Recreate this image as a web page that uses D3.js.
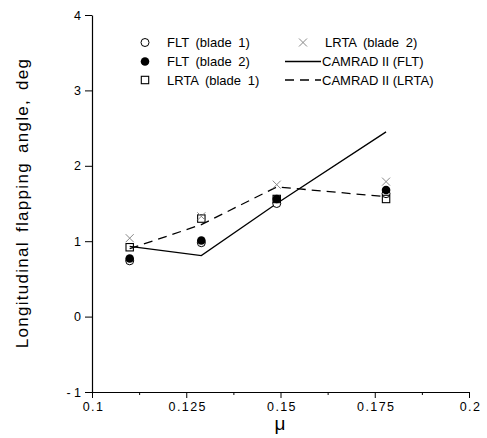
<!DOCTYPE html>
<html><head><meta charset="utf-8">
<script src="https://cdn.jsdelivr.net/npm/d3@7"></script>
<style>body{margin:0;background:#fff;} svg{display:block;} text{font-family:Arial, "Liberation Sans", Helvetica, sans-serif;}</style>
</head><body>
<svg id="c" width="487" height="438"></svg>
<script>
const mu = [0.11, 0.129, 0.149, 0.178];
const fltBlade1 = [0.74, 0.98, 1.50, 1.63];
const fltBlade2 = [0.77, 1.01, 1.56, 1.68];
const lrtaBlade1 = [0.92, 1.30, 1.56, 1.56];
const lrtaBlade2 = [1.04, 1.33, 1.75, 1.79];
const camradFLT = [0.93, 0.81, 1.50, 2.45];
const camradLRTA = [0.90, 1.22, 1.72, 1.59];
const xTicks = [0.1, 0.125, 0.15, 0.175, 0.2];
const xTickLabels = ["0.1", "0.125", "0.15", "0.175", "0.2"];
const xMinorTicks = [0.1125, 0.1375, 0.1625, 0.1875];
const yTicks = [-1, 0, 1, 2, 3, 4];
const yTickLabels = ["- 1", "0", "1", "2", "3", "4"];

const svg = d3.select("#c");
const x = d3.scaleLinear().domain([0.1, 0.2]).range([92, 469]);
const y = d3.scaleLinear().domain([-1, 4]).range([392, 15]);

// axes
const gx = svg.append("g").attr("transform", "translate(0,392)")
  .call(d3.axisBottom(x).tickValues(xTicks).tickFormat((d,i)=>xTickLabels[i]).tickSize(6).tickPadding(4).tickSizeOuter(0));
gx.selectAll(".tick text").attr("font-size", 12.5).attr("letter-spacing", 1.4).attr("dx", 1);
svg.append("g").attr("transform", "translate(0,392)")
  .call(d3.axisBottom(x).tickValues(xMinorTicks).tickFormat("").tickSize(3).tickSizeOuter(0))
  .select(".domain").remove();
const gy = svg.append("g").attr("transform", "translate(92,0)")
  .call(d3.axisLeft(y).tickValues(yTicks).tickFormat((d,i)=>yTickLabels[i]).tickSize(7).tickPadding(4).tickSizeOuter(0));
gy.selectAll(".tick text").attr("font-size", 12.5);
svg.selectAll(".domain").attr("stroke", "#000").attr("stroke-width", 1.2);
svg.selectAll(".tick line").attr("stroke", "#000");
svg.selectAll(".tick text").attr("fill", "#000")
  .style("font-family", "Arial, 'Liberation Sans', sans-serif");

// axis titles
svg.append("text").attr("transform", "translate(28,203) rotate(-90)")
  .attr("text-anchor", "middle").attr("font-size", 17).attr("letter-spacing", 1.3).attr("word-spacing", 3)
  .text("Longitudinal flapping angle, deg");
svg.append("text").attr("x", 280).attr("y", 430)
  .attr("text-anchor", "middle").attr("font-size", 19).text("μ");

// lines
const line = d3.line().x((d,i)=>x(mu[i])).y(d=>y(d));
svg.append("path").datum(camradFLT).attr("d", line).attr("fill", "none").attr("stroke", "#000").attr("stroke-width", 1.3);
svg.append("path").datum(camradLRTA).attr("d", line).attr("fill", "none").attr("stroke", "#000").attr("stroke-width", 1.3).attr("stroke-dasharray", "9,6");

// markers
function openCircle(g, cx, cy) { g.append("circle").attr("cx", cx).attr("cy", cy).attr("r", 4).attr("fill", "#fff").attr("stroke", "#000").attr("stroke-width", 1); }
function filledCircle(g, cx, cy) { g.append("circle").attr("cx", cx).attr("cy", cy).attr("r", 4.3).attr("fill", "#000"); }
function square(g, cx, cy) { g.append("rect").attr("x", cx-3.7).attr("y", cy-3.7).attr("width", 7.4).attr("height", 7.4).attr("fill", "none").attr("stroke", "#000").attr("stroke-width", 1.1); }
function cross(g, cx, cy) { const s = 4; g.append("path").attr("d", `M${cx-s},${cy-s}L${cx+s},${cy+s}M${cx-s},${cy+s}L${cx+s},${cy-s}`).attr("stroke", "#888").attr("stroke-width", 1); }

const gm = svg.append("g");
mu.forEach((m,i)=>openCircle(gm, x(m), y(fltBlade1[i])));
mu.forEach((m,i)=>filledCircle(gm, x(m), y(fltBlade2[i])));
mu.forEach((m,i)=>square(gm, x(m), y(lrtaBlade1[i])));
mu.forEach((m,i)=>cross(gm, x(m), y(lrtaBlade2[i])));

// legend
const lg = svg.append("g");
const rows = [42.5, 61.5, 80];
openCircle(lg, 145, rows[0]);
filledCircle(lg, 145, rows[1]);
square(lg, 145, rows[2]);
cross(lg, 303, rows[0]);
lg.append("line").attr("x1", 285).attr("x2", 321).attr("y1", rows[1]).attr("y2", rows[1]).attr("stroke", "#000").attr("stroke-width", 1.3);
lg.append("line").attr("x1", 285).attr("x2", 321).attr("y1", rows[2]).attr("y2", rows[2]).attr("stroke", "#000").attr("stroke-width", 1.3).attr("stroke-dasharray", "9,6");
const leftLabels = ["FLT (blade 1)", "FLT (blade 2)", "LRTA (blade 1)"];
const rightLabels = ["LRTA (blade 2)", "CAMRAD II (FLT)", "CAMRAD II (LRTA)"];
leftLabels.forEach((t,i)=>lg.append("text").attr("x", 167).attr("y", rows[i]+4.7).attr("font-size", 13).attr("word-spacing", 3).text(t));
rightLabels.forEach((t,i)=>lg.append("text").attr("x", i === 0 ? 325 : 322).attr("y", rows[i]+4.7).attr("font-size", 13).attr("word-spacing", i === 0 ? 3 : 0).text(t));
</script>
</body></html>
